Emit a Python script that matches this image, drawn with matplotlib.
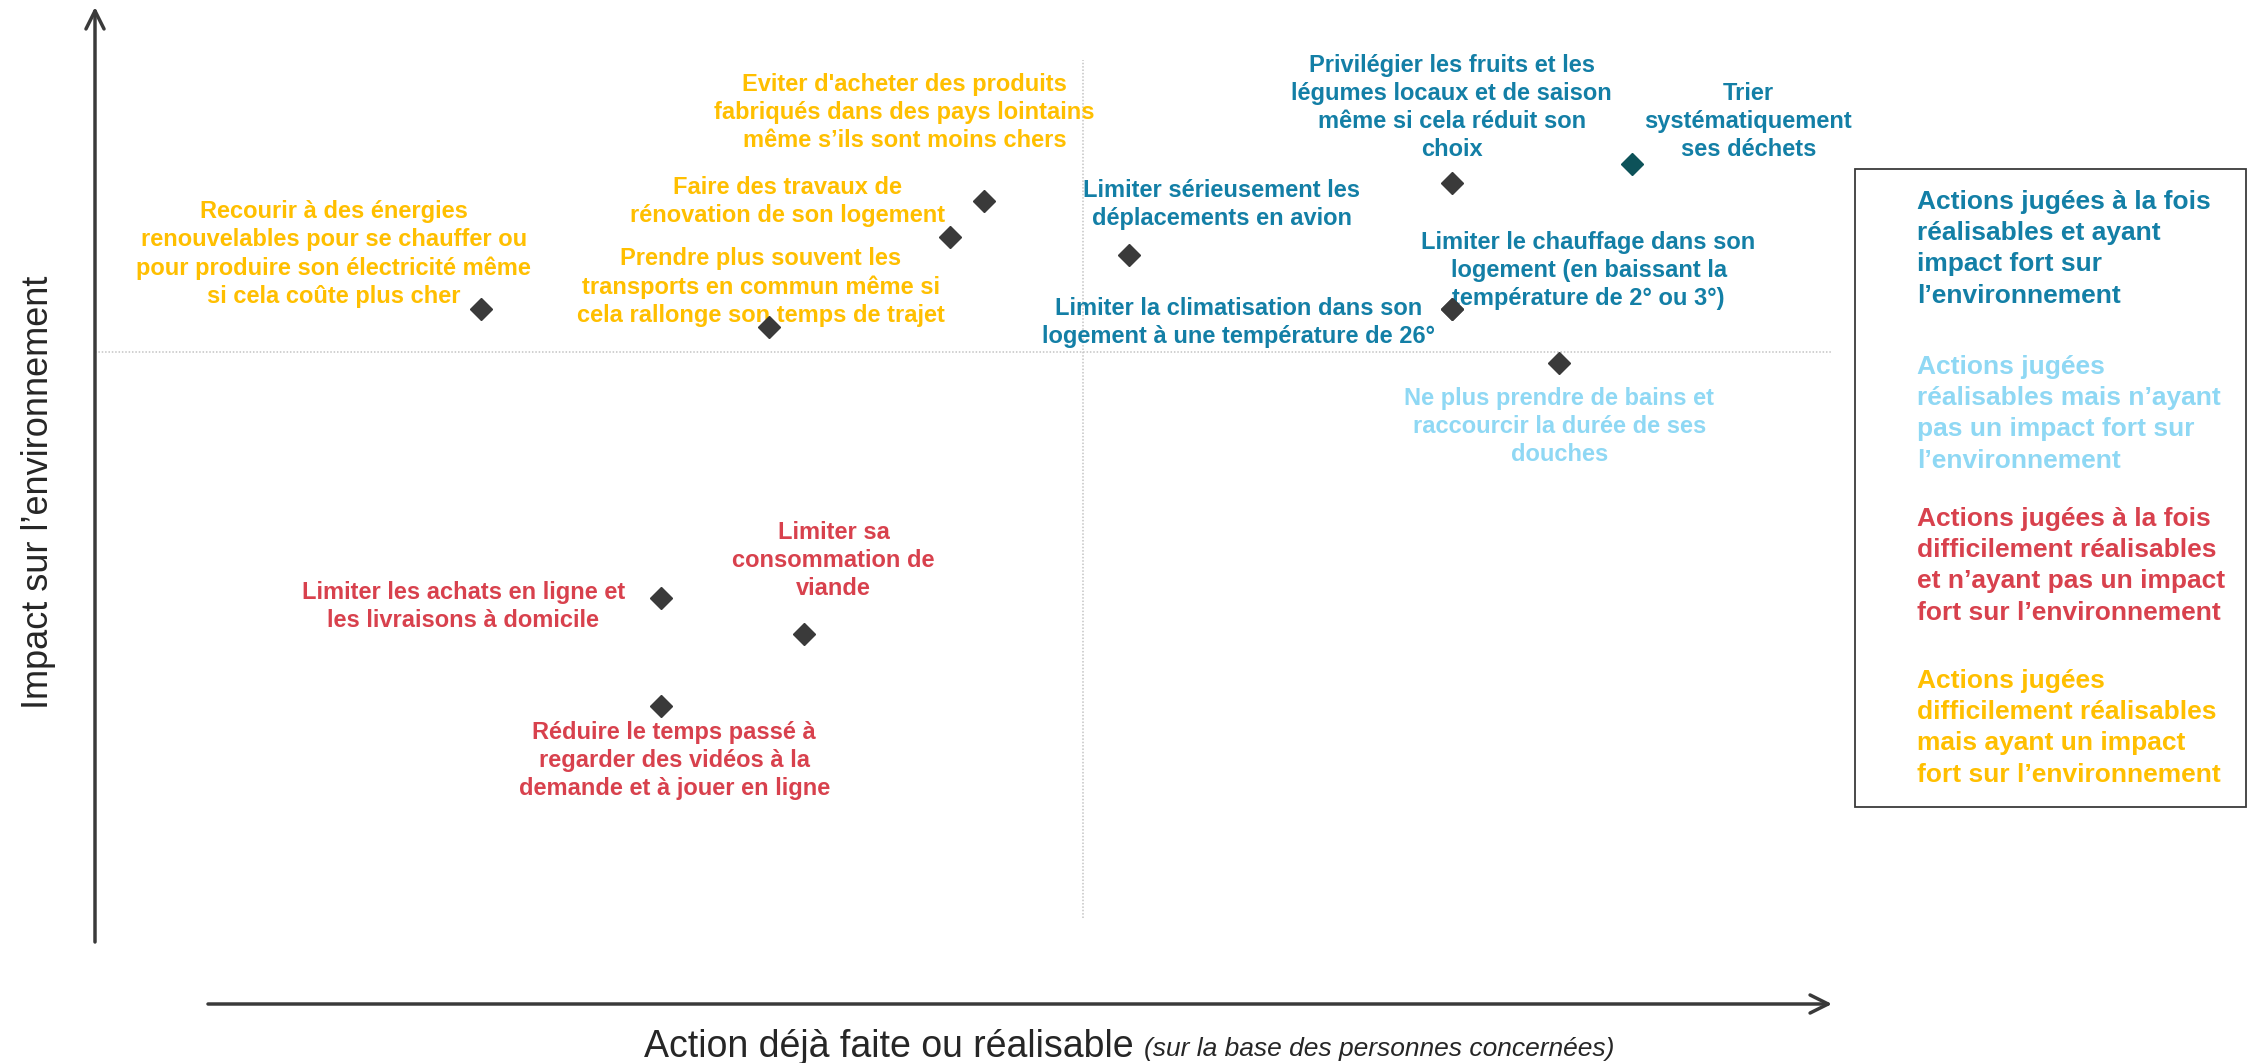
import matplotlib
matplotlib.use("Agg")
import matplotlib.pyplot as plt
from matplotlib.patches import Rectangle

plt.rcParams['font.family'] = ['Liberation Sans', 'DejaVu Sans']

# positions, echelle 0-100 sur chaque axe
actions = [
    "Recourir à des énergies\nrenouvelables pour se chauffer ou\npour produire son électricité même\nsi cela coûte plus cher",
    "Prendre plus souvent les\ntransports en commun même si\ncela rallonge son temps de trajet",
    "Faire des travaux de\nrénovation de son logement",
    "Eviter d'acheter des produits\nfabriqués dans des pays lointains\nmême s\u2019ils sont moins chers",
    "Limiter sérieusement les\ndéplacements en avion",
    "Privilégier les fruits et les\nlégumes locaux et de saison\nmême si cela réduit son\nchoix",
    "Trier\nsystématiquement\nses déchets",
    "Limiter le chauffage dans son\nlogement (en baissant la\ntempérature de 2° ou 3°)",
    "Limiter la climatisation dans son\nlogement à une température de 26°",
    "Ne plus prendre de bains et\nraccourcir la durée de ses\ndouches",
    "Limiter sa\nconsommation de\nviande",
    "Limiter les achats en ligne et\nles livraisons à domicile",
    "Réduire le temps passé à\nregarder des vidéos à la\ndemande et à jouer en ligne",
]
realisable = [22.2, 38.8, 49.2, 51.2, 59.5, 78.1, 88.5, 78.1, 78.1, 84.3, 40.8, 32.6, 32.6]
impact = [69.7, 67.9, 76.9, 80.5, 75.1, 82.3, 84.3, 69.7, 69.7, 64.3, 37.1, 40.7, 29.9]
groupe = ["jaune", "jaune", "jaune", "jaune", "bleu", "bleu", "bleu", "bleu", "bleu",
          "clair", "rouge", "rouge", "rouge"]

seuil_x = 56.9
seuil_y = 65.4

legende = [
    "Actions jugées à la fois\nréalisables et ayant\nimpact fort sur\nl\u2019environnement",
    "Actions jugées\nréalisables mais n\u2019ayant\npas un impact fort sur\nl\u2019environnement",
    "Actions jugées à la fois\ndifficilement réalisables\net n\u2019ayant pas un impact\nfort sur l\u2019environnement",
    "Actions jugées\ndifficilement réalisables\nmais ayant un impact\nfort sur l\u2019environnement",
]
legende_groupe = ["bleu", "clair", "rouge", "jaune"]

couleurs = {"bleu": "#137fa6", "clair": "#8fd8f4", "rouge": "#d8414d", "jaune": "#ffbf00"}

# decalage des etiquettes par rapport au point (pixels)
decalage = [(-147, 55), (-8, 40), (-162, 36), (-80, 89), (93, 51), (0, 76), (116, 42),
            (137, 39), (-213, -13), (0, -64), (30, 74), (-198, -8), (13, -55)]

W, H = 2248, 1063
fig = plt.figure(figsize=(W / 100, H / 100), dpi=100)
ax = fig.add_axes([95 / W, (H - 1004) / H, (1832 - 95) / W, (1004 - 7) / H])
ax.set_xlim(0, 100)
ax.set_ylim(0, 100)
ax.axis('off')

# lignes de separation des quadrants
ax.plot([seuil_x, seuil_x], [8.6, 94.7], color='#c4c4c4', lw=1.1, ls=(0, (1, 1.2)))
ax.plot([0, 100], [seuil_y, seuil_y], color='#c4c4c4', lw=1.1, ls=(0, (1, 1.2)))

for i, txt in enumerate(actions):
    mc = '#0d5259' if txt.startswith("Trier") else '#3a3a3a'
    ax.plot(realisable[i], impact[i], marker='D', ms=11.5, color=mc, mec=mc, zorder=3)
    ax.annotate(txt, xy=(realisable[i], impact[i]), xytext=decalage[i],
                textcoords='offset pixels', ha='center', va='center',
                fontsize=17, fontweight='bold', color=couleurs[groupe[i]],
                linespacing=1.28, zorder=2)

# fleches des axes
fleche = dict(arrowstyle='->,head_length=1.3,head_width=0.65', color='#3a3a3a', lw=2.5,
              shrinkA=0, shrinkB=0)
ax.annotate('', xy=(95, H - 7), xytext=(95, H - 942), xycoords='figure pixels',
            textcoords='figure pixels', arrowprops=fleche)
ax.annotate('', xy=(1832, H - 1004), xytext=(208, H - 1004), xycoords='figure pixels',
            textcoords='figure pixels', arrowprops=fleche)

fig.text(39 / W, 1 - 492 / H, "Impact sur l\u2019environnement", rotation=90,
         ha='center', va='center', fontsize=26, color='#262626')
t1 = fig.text(644 / W, 1 - 1047 / H, "Action déjà faite ou réalisable ", ha='left',
              va='center', fontsize=27, color='#262626')
fig.canvas.draw()
bb = t1.get_window_extent()
fig.text(bb.x1 / W, 1 - 1049 / H, "(sur la base des personnes concernées)",
         ha='left', va='center', fontsize=19, style='italic', color='#262626')

# encadre de legende
fig.patches.append(Rectangle((1855 / W, 1 - 807 / H), (2246 - 1855) / W, (807 - 169) / H,
                             transform=fig.transFigure, fill=False, ec='#3a3a3a', lw=1.3))
debut = [190, 355, 507, 669]
for txt, g, y0 in zip(legende, legende_groupe, debut):
    fig.text(1917 / W, 1 - y0 / H, txt, ha='left', va='top', fontsize=19,
             fontweight='bold', color=couleurs[g], linespacing=1.38)

fig.savefig('out.png', dpi=100)
